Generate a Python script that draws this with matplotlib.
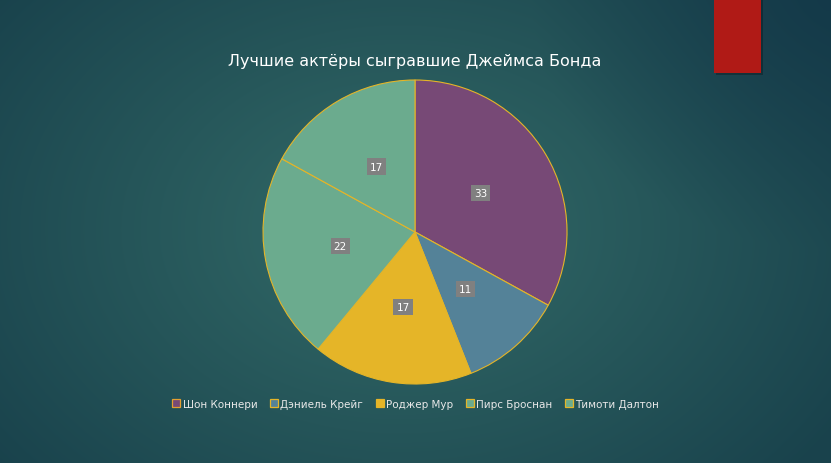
import numpy as np
import matplotlib
matplotlib.use("Agg")
import matplotlib.pyplot as plt
from matplotlib.lines import Line2D
from matplotlib.patches import Rectangle

plt.rcParams["font.family"] = ["DejaVu Sans"]

TITLE = "Лучшие актёры сыгравшие Джеймса Бонда"
ACTORS = ["Шон Коннери", "Дэниель Крейг", "Роджер Мур", "Пирс Броснан", "Тимоти Далтон"]
VALUES = [33, 11, 17, 22, 17]
COLORS = ["#774976", "#548298", "#e5b528", "#6bab8e", "#6bab8e"]
LEGEND_EDGES = ["#e5a030", "#e5b528", "#e5b528", "#e5b528", "#e5b528"]

W, H = 831, 464
fig = plt.figure(figsize=(W / 100, H / 100), dpi=100)

# background: radial teal gradient, lighter near the middle
bg = fig.add_axes([0, 0, 1, 1])
yy, xx = np.mgrid[0:H, 0:W]
d = np.sqrt(((xx - 400) / 520.0) ** 2 + ((yy - 230) / 380.0) ** 2)
d = np.clip(d, 0, 1)
c0 = np.array([0x33, 0x6b, 0x68]) / 255
c1 = np.array([0x19, 0x42, 0x4c]) / 255
img = c0[None, None, :] * (1 - d[..., None]) + c1[None, None, :] * d[..., None]
# darker toward the top right
tr = np.clip(1 - np.sqrt(((xx - W) / 300.0) ** 2 + (yy / 250.0) ** 2), 0, 1)
dark = np.array([0x12, 0x36, 0x48]) / 255
img = img * (1 - 0.7 * tr[..., None]) + dark[None, None, :] * 0.7 * tr[..., None]
bg.imshow(img, extent=[0, W, H, 0], aspect="auto")
bg.set_xlim(0, W); bg.set_ylim(H, 0)
bg.axis("off")

# red accent block with a faint shadow
bg.add_patch(Rectangle((716, 0), 47, 76, color="#000000", alpha=0.25, lw=0))
bg.add_patch(Rectangle((714, 0), 47, 74, color="#b01a16", lw=0))

# pie
cx, cy, r = 415, 233, 152
ax = fig.add_axes([(cx - r) / W, (H - cy - r) / H, 2 * r / W, 2 * r / H])
wedges, _ = ax.pie(VALUES, colors=COLORS, startangle=90, counterclock=False,
                   radius=1, wedgeprops=dict(edgecolor="#e5b528", linewidth=0.8))
ax.set_xlim(-1, 1); ax.set_ylim(-1, 1)
ax.set_aspect("equal")
ax.axis("off")

total = sum(VALUES)
start = 90.0
for v in VALUES:
    ang = np.deg2rad(start - v / total * 360 / 2)
    start -= v / total * 360
    ax.text(0.5 * np.cos(ang), 0.5 * np.sin(ang), str(v), ha="center", va="center",
            color="white", fontsize=7.5,
            bbox=dict(boxstyle="square,pad=0.3", fc="#808080", ec="none"))

fig.text(cx / W, 1 - 61 / H, TITLE, ha="center", va="center", color="white", fontsize=11.5)

handles = [Line2D([0], [0], marker="s", linestyle="", markersize=5.5,
                  markerfacecolor=c, markeredgecolor=e, markeredgewidth=0.9, label=a)
           for a, c, e in zip(ACTORS, COLORS, LEGEND_EDGES)]
fig.legend(handles=handles, loc="center", bbox_to_anchor=(cx / W, 1 - 405 / H),
           ncol=5, frameon=False, fontsize=7.5, labelcolor="#e8e8e8",
           handletextpad=0.1, columnspacing=1.1, handlelength=1.0)

fig.savefig("out.png", dpi=100)
